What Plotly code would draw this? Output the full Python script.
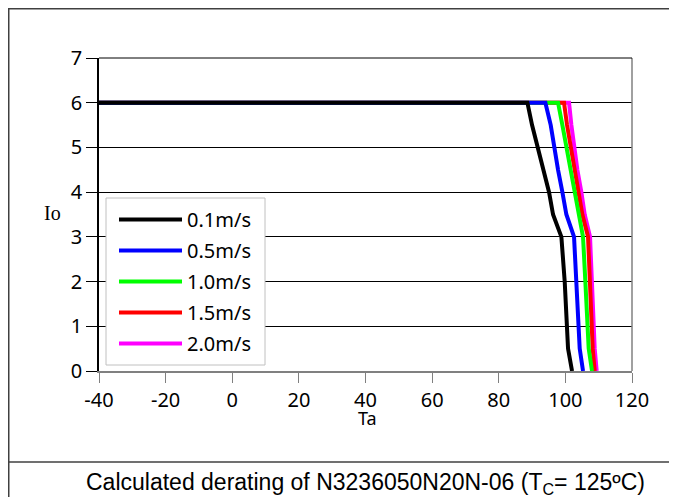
import plotly.graph_objects as go

# ---- data ----
io_levels = [6, 6, 5.5, 5, 4.5, 4, 3.5, 3, 2, 1, 0.5, 0]
ta_01 = [-40, 88.6, 90.0, 91.8, 93.3, 95.1, 96.3, 98.8, 99.8, 100.3, 100.8, 102.0]
ta_05 = [-40, 94.0, 95.6, 96.6, 97.8, 99.1, 100.3, 102.6, 103.3, 103.8, 104.3, 105.3]
ta_10 = [-40, 97.8, 99.1, 100.3, 101.5, 102.8, 103.8, 105.3, 106.0, 106.6, 107.0, 108.0]
ta_15 = [-40, 99.6, 100.5, 101.6, 102.8, 104.1, 105.1, 106.8, 107.3, 107.8, 108.2, 108.8]
ta_20 = [-40, 101.1, 101.8, 102.6, 103.6, 104.8, 105.8, 107.4, 108.0, 108.4, 108.8, 109.4]
series_names = ["0.1m/s", "0.5m/s", "1.0m/s", "1.5m/s", "2.0m/s"]
series_ta = [ta_01, ta_05, ta_10, ta_15, ta_20]
series_colors = ["#000000", "#0000ff", "#00ff00", "#ff0000", "#ff00ff"]
x_ticks = [-40, -20, 0, 20, 40, 60, 80, 100, 120]
y_ticks = [0, 1, 2, 3, 4, 5, 6, 7]
title_text = "Calculated derating of N3236050N20N-06 (T<sub>C</sub>= 125ºC)"

# page body has an 8px margin; positions below are in reference-window pixels
OFF = 8
W, H = 677 - OFF, 497 - OFF
PL, PR, PT, PB = 99, 632, 58, 371  # plot area in reference pixels
L, R, T, B = PL - OFF, W - (PR - OFF), PT - OFF, H - (PB - OFF)
pw, ph = PR - PL, PB - PT


def px_x(p):
    return (p - PL) / pw


def px_y(p):
    return (PB - p) / ph


fig = go.Figure()
# draw in reverse so black ends up on top; legend ranks keep black first
for rank, (name, ta, col) in reversed(list(enumerate(zip(series_names, series_ta, series_colors)))):
    fig.add_trace(go.Scatter(x=ta, y=io_levels, mode="lines", name=name,
                             legendgroup=name, legendrank=rank + 1,
                             line=dict(color=col, width=4)))

border = "#404040"
shapes = [
    dict(type="line", xref="paper", yref="paper", x0=px_x(0), x1=px_x(700), y0=px_y(8.75), y1=px_y(8.75),
         line=dict(color=border, width=1.5)),
    dict(type="line", xref="paper", yref="paper", x0=px_x(8.75), x1=px_x(8.75), y0=px_y(8.75), y1=px_y(520),
         line=dict(color=border, width=1.5)),
    dict(type="line", xref="paper", yref="paper", x0=px_x(0), x1=px_x(700), y0=px_y(462), y1=px_y(462),
         line=dict(color=border, width=1.5)),
    dict(type="line", xref="paper", yref="paper", x0=1, x1=1, y0=0, y1=1,
         line=dict(color="#808080", width=1.5)),
    dict(type="line", xref="paper", yref="paper", x0=0, x1=1, y0=1, y1=1,
         line=dict(color="#000000", width=1)),
    # legend frame
    dict(type="rect", xref="paper", yref="paper", x0=px_x(106), x1=px_x(265), y0=px_y(365), y1=px_y(198),
         line=dict(color="#c0c0c0", width=1), fillcolor="white", layer="above"),
]

annotations = [
    dict(text="Io", xref="paper", yref="paper", x=px_x(52), y=px_y(213), showarrow=False,
         xanchor="center", yanchor="middle",
         font=dict(family="Liberation Serif", size=20, color="black")),
    dict(text="Ta", xref="paper", yref="paper", x=px_x(367), y=px_y(418), showarrow=False,
         xanchor="center", yanchor="middle",
         font=dict(family="Noto Sans", size=18, color="black")),
    dict(text=title_text, xref="paper", yref="paper", x=0.5, y=px_y(483), showarrow=False,
         xanchor="center", yanchor="middle",
         font=dict(family="Liberation Sans", size=23, color="black")),
]

fig.update_layout(
    width=W, height=H,
    margin=dict(l=L, r=R, t=T, b=B, pad=0),
    paper_bgcolor="white", plot_bgcolor="white",
    showlegend=True,
    legend=dict(x=px_x(114), y=px_y(200), xanchor="left", yanchor="top",
                bgcolor="rgba(0,0,0,0)", borderwidth=0,
                font=dict(family="Noto Sans", size=20, color="black"),
                itemwidth=63, traceorder="grouped", tracegroupgap=2),
    shapes=shapes,
    annotations=annotations,
    xaxis=dict(range=[-40, 120], tickvals=x_ticks, ticktext=[str(v) for v in x_ticks],
               showgrid=False, zeroline=False,
               showline=True, linecolor="#808080", linewidth=1.5,
               ticks="outside", ticklen=10, tickcolor="#808080", tickwidth=1,
               tickfont=dict(family="Noto Sans", size=20, color="black")),
    yaxis=dict(range=[0, 7], tickvals=y_ticks, ticktext=[str(v) for v in y_ticks],
               showgrid=True, gridcolor="#000000", gridwidth=1, zeroline=False,
               showline=True, linecolor="#000000", linewidth=1.5,
               ticks="outside", ticklen=11, tickcolor="#000000", tickwidth=1,
               tickfont=dict(family="Noto Sans", size=20, color="black")),
)

fig.write_html("out.html")
